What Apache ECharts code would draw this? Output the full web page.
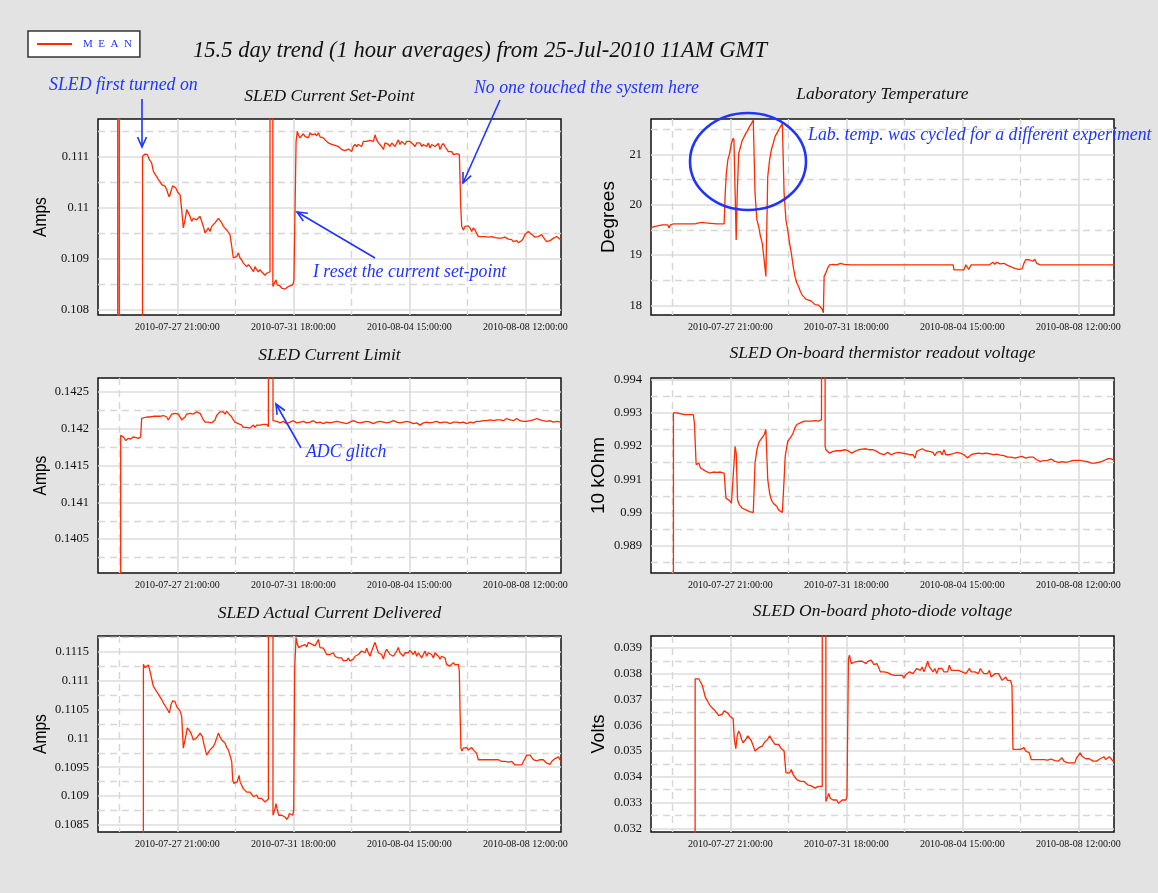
<!DOCTYPE html>
<html><head><meta charset="utf-8">
<script src="https://cdn.jsdelivr.net/npm/echarts@6/dist/echarts.min.js"></script>
<style>html,body{margin:0;padding:0;background:#e3e3e3}#c{width:1158px;height:893px}</style>
</head><body><div id="c"></div>
<script>
// ---- time axis (hours since 2010-07-25 00:00 GMT) ----
const xRange = [5.4, 376.6];
const xTickHours = [69, 162, 255, 348];
const xTickLabels = ['2010-07-27 21:00:00', '2010-07-31 18:00:00', '2010-08-04 15:00:00', '2010-08-08 12:00:00'];
const xMinorHours = [22.5, 115.5, 208.5, 301.5];

// ---- panel titles / units ----
const panelTitles = ['SLED Current Set-Point', 'Laboratory Temperature', 'SLED Current Limit',
  'SLED On-board thermistor readout voltage', 'SLED Actual Current Delivered', 'SLED On-board photo-diode voltage'];
const panelUnits = ['Amps', 'Degrees', 'Amps', '10 kOhm', 'Amps', 'Volts'];

// ---- y ranges and ticks ----
const yRangeSetPoint = [0.10789, 0.11174];
const yTicksSetPoint = [0.108, 0.109, 0.11, 0.111];
const yMinorSetPoint = [0.1085, 0.1095, 0.1105, 0.1115];
const yRangeTemp = [17.815, 21.70];
const yTicksTemp = [18, 19, 20, 21];
const yMinorTemp = [18.5, 19.5, 20.5, 21.5];
const yRangeLimit = [0.14004, 0.14269];
const yTicksLimit = [0.1405, 0.141, 0.1415, 0.142, 0.1425];
const yMinorLimit = [0.14025, 0.14075, 0.14125, 0.14175, 0.14225];
const yRangeTherm = [0.98818, 0.99405];
const yTicksTherm = [0.989, 0.99, 0.991, 0.992, 0.993, 0.994];
const yMinorTherm = [0.9885, 0.9895, 0.9905, 0.9915, 0.9925, 0.9935];
const yRangeActual = [0.10838, 0.11177];
const yTicksActual = [0.1085, 0.109, 0.1095, 0.11, 0.1105, 0.111, 0.1115];
const yMinorActual = [0.10875, 0.10925, 0.10975, 0.11025, 0.11075, 0.11125, 0.11175];
const yRangePhoto = [0.03186, 0.03946];
const yTicksPhoto = [0.032, 0.033, 0.034, 0.035, 0.036, 0.037, 0.038, 0.039];
const yMinorPhoto = [0.0325, 0.0335, 0.0345, 0.0355, 0.0365, 0.0375, 0.0385];

// ---- series data: [hour, value] ----
const setPointData = [[5.4,0],[21.2,0],[21.4,1],[22.4,1],[22.6,0],[40.9,0],[41.1,0.11101],[41.8,0.11101],[43.1,0.11105],[45.0,0.11104],[46.6,0.11094],[48.4,0.11088],[49.8,0.11071],[51.1,0.11068],[52.4,0.11061],[53.8,0.11055],[55.1,0.11051],[56.5,0.11045],[57.8,0.11048],[59.1,0.11042],[60.5,0.11035],[61.8,0.11025],[62.6,0.11021],[63.9,0.11032],[65.3,0.11043],[66.3,0.11045],[67.9,0.11038],[69.3,0.11030],[71.2,0.11025],[72.5,0.10996],[73.8,0.10960],[75.2,0.10976],[76.5,0.10996],[77.8,0.10996],[79.2,0.10983],[80.5,0.10973],[81.8,0.10979],[83.2,0.10976],[84.5,0.10976],[85.9,0.10979],[87.2,0.10983],[88.5,0.10973],[89.9,0.10963],[91.2,0.10950],[92.5,0.10953],[93.9,0.10960],[95.2,0.10953],[96.5,0.10963],[97.9,0.10966],[99.2,0.10970],[100.5,0.10973],[101.9,0.10979],[103.2,0.10976],[104.6,0.10970],[105.9,0.10963],[107.2,0.10960],[108.6,0.10956],[109.9,0.10953],[111.2,0.10947],[112.6,0.10924],[113.9,0.10901],[115.2,0.10904],[116.6,0.10904],[117.9,0.10911],[119.3,0.10901],[120.6,0.10897],[121.9,0.10891],[123.3,0.10888],[124.6,0.10884],[126.0,0.10888],[127.3,0.10884],[128.6,0.10881],[130.0,0.10874],[131.3,0.10884],[132.6,0.10878],[134.0,0.10874],[135.3,0.10878],[136.6,0.10874],[138.0,0.10871],[139.3,0.10867],[140.6,0.10871],[142.0,0.10871],[143.3,0.10874],[143.6,1],[145.1,1],[145.6,0.10845],[147.2,0.10848],[148.0,0.10858],[149.1,0.10848],[150.2,0.10845],[151.3,0.10846],[152.7,0.10842],[154.0,0.10844],[155.3,0.10840],[156.7,0.10838],[158.0,0.10845],[159.3,0.10848],[160.7,0.10847],[162.0,0.10851],[162.5,0.10858],[164.2,0.11130],[165.2,0.11150],[166.3,0.11141],[167.4,0.11137],[168.7,0.11140],[170.0,0.11145],[171.4,0.11140],[172.7,0.11143],[174.0,0.11137],[175.4,0.11147],[176.7,0.11143],[178.0,0.11140],[179.4,0.11145],[180.7,0.11141],[182.1,0.11147],[182.9,0.11150],[183.4,0.11139],[184.7,0.11140],[186.1,0.11137],[187.4,0.11133],[188.7,0.11130],[190.1,0.11127],[191.4,0.11128],[192.7,0.11124],[194.1,0.11127],[195.4,0.11122],[196.8,0.11125],[198.1,0.11120],[199.4,0.11117],[200.8,0.11114],[202.1,0.11115],[203.4,0.11112],[204.8,0.11114],[206.1,0.11115],[207.4,0.11114],[208.8,0.11110],[210.1,0.11120],[211.5,0.11124],[212.8,0.11120],[214.1,0.11124],[215.5,0.11127],[216.8,0.11120],[218.1,0.11130],[219.5,0.11133],[220.8,0.11130],[222.1,0.11127],[223.5,0.11132],[224.8,0.11135],[226.2,0.11130],[227.5,0.11143],[228.8,0.11133],[230.2,0.11127],[231.5,0.11130],[232.8,0.11120],[234.2,0.11114],[235.5,0.11127],[236.8,0.11130],[238.2,0.11124],[239.5,0.11120],[240.9,0.11127],[242.2,0.11130],[243.5,0.11120],[244.9,0.11127],[246.2,0.11133],[247.5,0.11124],[248.9,0.11130],[250.2,0.11127],[251.5,0.11124],[252.9,0.11130],[254.2,0.11127],[255.5,0.11130],[256.9,0.11127],[258.2,0.11124],[259.6,0.11120],[260.9,0.11127],[262.2,0.11124],[263.6,0.11127],[264.9,0.11120],[266.2,0.11124],[267.6,0.11127],[268.9,0.11120],[270.2,0.11127],[271.6,0.11117],[272.9,0.11124],[274.3,0.11127],[275.6,0.11120],[276.9,0.11122],[278.3,0.11126],[279.6,0.11114],[280.9,0.11122],[282.3,0.11126],[283.6,0.11120],[284.9,0.11117],[286.3,0.11110],[287.6,0.11107],[289.0,0.11110],[290.3,0.11104],[291.6,0.11107],[293.0,0.11106],[294.3,0.11109],[295.1,0.11104],[295.6,0.11061],[296.2,0.11002],[297.0,0.10963],[298.3,0.10956],[299.7,0.10963],[301.0,0.10960],[302.3,0.10964],[303.7,0.10960],[305.0,0.10953],[306.3,0.10960],[307.7,0.10956],[309.0,0.10953],[310.3,0.10943],[311.7,0.10945],[313.0,0.10943],[314.4,0.10940],[315.7,0.10943],[317.0,0.10940],[318.4,0.10942],[319.7,0.10940],[321.0,0.10943],[322.4,0.10940],[323.7,0.10941],[325.0,0.10938],[326.4,0.10940],[327.7,0.10937],[329.0,0.10940],[330.4,0.10938],[331.7,0.10942],[333.0,0.10943],[334.4,0.10938],[335.7,0.10940],[337.1,0.10937],[338.4,0.10933],[339.7,0.10931],[341.1,0.10935],[342.4,0.10931],[343.7,0.10930],[345.1,0.10935],[346.4,0.10940],[347.7,0.10947],[349.1,0.10950],[350.4,0.10953],[351.8,0.10956],[353.1,0.10947],[354.4,0.10945],[355.8,0.10942],[357.1,0.10940],[358.4,0.10943],[359.8,0.10945],[361.1,0.10947],[362.4,0.10942],[363.8,0.10937],[365.1,0.10933],[366.4,0.10930],[367.8,0.10935],[369.1,0.10937],[370.5,0.10940],[371.8,0.10940],[373.1,0.10943],[374.5,0.10945],[375.8,0.10938],[376.6,0.10937]];

const tempData = [[4.9,19.54],[8.7,19.57],[14.5,19.60],[18.9,19.60],[19.8,19.54],[21.0,19.60],[23.3,19.62],[32.0,19.62],[40.7,19.62],[43.7,19.64],[46.6,19.65],[48.0,19.68],[48.9,19.64],[49.5,19.62],[58.2,19.62],[64.0,19.62],[64.9,20.23],[65.8,20.62],[67.0,20.89],[68.4,21.02],[69.9,21.22],[70.7,21.28],[71.3,21.32],[71.9,21.28],[73.7,19.30],[74.5,20.20],[75.7,21.02],[77.2,21.15],[78.6,21.28],[80.1,21.35],[81.5,21.42],[83.0,21.48],[84.4,21.55],[85.9,21.61],[87.4,21.68],[88.8,20.23],[90.3,19.70],[91.7,19.57],[93.2,19.37],[94.6,19.24],[96.1,18.91],[97.5,18.58],[98.1,18.55],[99.0,20.56],[100.5,20.89],[101.9,21.09],[103.4,21.22],[104.8,21.35],[107.7,21.48],[109.2,21.55],[110.7,21.61],[112.1,20.23],[113.6,19.70],[115.0,19.50],[116.5,19.24],[117.9,19.04],[119.4,18.78],[120.8,18.58],[122.3,18.45],[123.7,18.38],[125.2,18.28],[126.6,18.21],[128.1,18.18],[129.6,18.13],[131.0,18.12],[134.0,18.09],[136.9,18.02],[139.8,18.01],[141.2,17.99],[142.7,17.93],[143.6,17.86],[144.2,18.58],[145.6,18.65],[147.1,18.75],[148.5,18.81],[151.4,18.82],[154.3,18.81],[157.3,18.84],[160.2,18.82],[166.0,18.81],[189.3,18.81],[220.0,18.81],[247.6,18.81],[248.3,18.71],[256.3,18.71],[257.8,18.81],[259.2,18.81],[260.1,18.72],[261.0,18.72],[262.1,18.81],[276.7,18.81],[279.6,18.86],[281.0,18.82],[282.5,18.86],[285.4,18.83],[288.3,18.84],[291.3,18.80],[294.2,18.77],[297.1,18.74],[300.0,18.72],[302.9,18.73],[304.4,18.84],[305.8,18.91],[308.7,18.91],[311.7,18.88],[313.1,18.92],[314.6,18.84],[317.5,18.81],[376.9,18.81]];

const limitData = [[5.4,0],[23.5,0],[23.6,0.14191],[25.7,0.14189],[27.8,0.14184],[29.7,0.14187],[31.6,0.14186],[33.7,0.14189],[37.7,0.14187],[39.6,0.14189],[40.4,0.14214],[41.8,0.14214],[44.4,0.14216],[47.1,0.14216],[49.8,0.14217],[52.4,0.14217],[55.1,0.14217],[57.8,0.14218],[60.5,0.14216],[61.8,0.14212],[63.1,0.14216],[64.5,0.14220],[65.8,0.14222],[67.1,0.14221],[68.5,0.14223],[69.8,0.14220],[71.2,0.14218],[72.5,0.14212],[73.8,0.14211],[75.2,0.14216],[76.5,0.14220],[79.2,0.14221],[81.8,0.14220],[84.5,0.14223],[87.2,0.14221],[88.5,0.14220],[89.9,0.14212],[91.2,0.14209],[92.5,0.14211],[93.9,0.14209],[95.2,0.14211],[96.5,0.14208],[97.9,0.14207],[99.2,0.14212],[100.5,0.14218],[101.9,0.14220],[103.2,0.14223],[104.6,0.14221],[105.9,0.14223],[107.2,0.14220],[108.6,0.14224],[109.9,0.14221],[111.2,0.14220],[112.6,0.14216],[113.9,0.14212],[115.2,0.14209],[116.6,0.14208],[117.9,0.14207],[119.3,0.14208],[120.6,0.14205],[121.9,0.14202],[123.3,0.14201],[124.6,0.14202],[126.0,0.14203],[127.3,0.14201],[128.6,0.14203],[130.0,0.14205],[131.3,0.14202],[132.6,0.14205],[134.0,0.14203],[135.3,0.14205],[136.6,0.14205],[138.0,0.14206],[139.3,0.14205],[140.6,0.14206],[142.0,0.14203],[142.8,0.14201],[143.6,1],[145.2,1],[145.7,0.14211],[147.2,0.14209],[148.7,0.14210],[151.3,0.14208],[154.0,0.14210],[156.7,0.14207],[159.3,0.14209],[162.0,0.14211],[164.7,0.14208],[167.4,0.14209],[170.0,0.14210],[172.7,0.14208],[175.4,0.14209],[178.0,0.14211],[180.7,0.14208],[183.4,0.14209],[186.1,0.14207],[188.7,0.14209],[191.4,0.14208],[194.1,0.14209],[196.8,0.14210],[199.4,0.14209],[202.1,0.14208],[204.8,0.14207],[207.4,0.14209],[210.1,0.14211],[212.8,0.14209],[215.5,0.14208],[218.1,0.14209],[220.8,0.14210],[223.5,0.14209],[226.2,0.14207],[228.8,0.14209],[231.5,0.14210],[234.2,0.14209],[236.8,0.14208],[239.5,0.14209],[242.2,0.14211],[244.9,0.14209],[247.5,0.14208],[250.2,0.14209],[252.9,0.14210],[255.5,0.14209],[258.2,0.14207],[260.9,0.14208],[263.6,0.14205],[266.2,0.14208],[268.9,0.14209],[271.6,0.14208],[274.3,0.14209],[276.9,0.14210],[279.6,0.14208],[282.3,0.14209],[284.9,0.14209],[287.6,0.14207],[290.3,0.14209],[293.0,0.14209],[295.6,0.14208],[298.3,0.14209],[301.0,0.14207],[303.7,0.14209],[306.3,0.14208],[309.0,0.14210],[311.7,0.14210],[314.3,0.14211],[317.0,0.14211],[319.7,0.14212],[322.4,0.14211],[325.0,0.14212],[327.7,0.14212],[330.4,0.14211],[333.0,0.14214],[335.7,0.14212],[338.4,0.14211],[341.1,0.14214],[343.7,0.14211],[346.4,0.14210],[349.1,0.14210],[351.8,0.14211],[354.4,0.14212],[357.1,0.14214],[359.8,0.14212],[362.4,0.14211],[365.1,0.14210],[367.8,0.14211],[370.5,0.14209],[373.1,0.14210],[376.6,0.14209]];

const thermData = [[5.4,0.95],[23.2,0.95],[23.4,0.99300],[26.2,0.99300],[32.0,0.99295],[39.3,0.99295],[40.2,0.99270],[41.6,0.99144],[43.7,0.99149],[45.1,0.99134],[46.6,0.99139],[49.5,0.99124],[52.4,0.99119],[55.3,0.99122],[58.2,0.99121],[61.1,0.99122],[64.0,0.99119],[65.5,0.99043],[67.0,0.99038],[68.4,0.99036],[69.9,0.99028],[71.3,0.99023],[72.8,0.99199],[73.7,0.99180],[74.8,0.99038],[76.3,0.99023],[78.6,0.99013],[81.5,0.99008],[84.4,0.99003],[87.4,0.99000],[88.8,0.99149],[90.3,0.99189],[91.7,0.99209],[93.2,0.99219],[94.6,0.99224],[96.1,0.99234],[97.5,0.99250],[99.0,0.99099],[100.5,0.99058],[101.9,0.99038],[103.4,0.99028],[104.8,0.99023],[106.3,0.99018],[107.7,0.99008],[109.2,0.99003],[110.7,0.99000],[112.1,0.99099],[113.0,0.99169],[115.0,0.99214],[116.5,0.99219],[117.9,0.99229],[119.4,0.99240],[120.8,0.99255],[122.3,0.99265],[125.2,0.99270],[128.1,0.99275],[131.0,0.99275],[134.0,0.99275],[136.9,0.99277],[139.8,0.99275],[142.1,0.99280],[142.5,1.1],[144.6,1.1],[145.0,0.99199],[145.6,0.99189],[148.5,0.99179],[151.4,0.99184],[154.3,0.99186],[157.3,0.99186],[160.2,0.99189],[163.1,0.99187],[166.0,0.99179],[168.9,0.99184],[171.8,0.99189],[174.7,0.99191],[177.7,0.99192],[180.6,0.99189],[183.5,0.99189],[186.4,0.99184],[189.3,0.99177],[192.2,0.99174],[195.1,0.99181],[196.6,0.99187],[198.0,0.99174],[201.0,0.99179],[203.9,0.99181],[206.8,0.99179],[209.7,0.99177],[212.6,0.99174],[215.5,0.99174],[217.0,0.99164],[218.4,0.99184],[219.9,0.99189],[222.8,0.99192],[225.7,0.99186],[228.6,0.99184],[231.5,0.99181],[233.0,0.99171],[234.4,0.99181],[235.9,0.99177],[237.3,0.99184],[238.8,0.99174],[240.3,0.99189],[241.7,0.99174],[243.2,0.99171],[244.6,0.99174],[247.6,0.99177],[250.5,0.99181],[253.4,0.99179],[256.3,0.99174],[259.2,0.99164],[260.7,0.99167],[262.1,0.99174],[265.0,0.99177],[267.9,0.99179],[270.9,0.99177],[273.8,0.99179],[276.7,0.99177],[279.6,0.99174],[282.5,0.99176],[285.4,0.99173],[288.3,0.99171],[291.3,0.99167],[294.2,0.99167],[297.1,0.99164],[300.0,0.99167],[302.9,0.99169],[305.8,0.99164],[308.7,0.99167],[311.7,0.99167],[314.6,0.99159],[317.5,0.99154],[320.4,0.99156],[323.3,0.99157],[326.2,0.99161],[329.1,0.99154],[332.0,0.99151],[335.0,0.99153],[337.9,0.99151],[340.8,0.99153],[343.7,0.99157],[346.6,0.99157],[349.5,0.99157],[352.4,0.99155],[355.3,0.99153],[358.3,0.99149],[361.2,0.99149],[364.1,0.99151],[367.0,0.99154],[369.9,0.99159],[372.8,0.99163],[375.7,0.99159],[376.9,0.99157]];

const actualData = [[5.4,0],[41.6,0],[41.8,0.11128],[43.1,0.11122],[44.4,0.11125],[45.8,0.11127],[47.1,0.11116],[48.4,0.11113],[49.8,0.11090],[51.1,0.11090],[52.4,0.11081],[53.8,0.11076],[55.1,0.11073],[56.5,0.11067],[57.8,0.11061],[59.1,0.11061],[60.5,0.11052],[61.8,0.11050],[62.6,0.11044],[63.9,0.11058],[65.3,0.11065],[67.1,0.11064],[68.5,0.11055],[69.8,0.11052],[71.2,0.11047],[72.5,0.11038],[73.8,0.10983],[75.2,0.10980],[76.0,0.11006],[77.0,0.11018],[78.1,0.11021],[79.2,0.11012],[80.5,0.11006],[81.8,0.10997],[83.2,0.11000],[84.5,0.11001],[85.9,0.11003],[87.2,0.11009],[88.0,0.11012],[89.1,0.11003],[90.4,0.10989],[91.2,0.10983],[92.5,0.10971],[93.9,0.10974],[95.2,0.10980],[96.5,0.10983],[97.9,0.10986],[99.2,0.10992],[100.5,0.11000],[101.9,0.11009],[103.2,0.11003],[104.6,0.10997],[105.9,0.10994],[107.2,0.10992],[108.6,0.10984],[109.9,0.10980],[111.2,0.10978],[112.6,0.10960],[113.4,0.10928],[114.4,0.10922],[115.8,0.10925],[117.1,0.10925],[118.5,0.10936],[119.3,0.10925],[120.6,0.10919],[121.9,0.10913],[123.3,0.10910],[124.6,0.10907],[126.0,0.10909],[127.3,0.10907],[128.6,0.10905],[130.0,0.10899],[131.3,0.10899],[132.6,0.10902],[134.0,0.10896],[135.3,0.10899],[136.6,0.10896],[138.0,0.10893],[139.3,0.10890],[140.6,0.10893],[142.0,0.10895],[143.3,0.10897],[143.6,1],[145.1,1],[145.7,0.10867],[146.5,0.10864],[147.3,0.10878],[148.1,0.10887],[149.2,0.10876],[150.3,0.10867],[151.3,0.10867],[152.7,0.10867],[154.0,0.10867],[155.3,0.10864],[156.7,0.10860],[158.0,0.10864],[158.8,0.10870],[159.9,0.10867],[161.5,0.10867],[162.3,0.10876],[163.1,0.11122],[164.2,0.11174],[165.2,0.11163],[166.3,0.11157],[167.4,0.11154],[168.7,0.11160],[170.0,0.11157],[171.4,0.11162],[172.7,0.11158],[174.0,0.11166],[175.4,0.11163],[176.7,0.11163],[178.0,0.11162],[179.4,0.11160],[180.7,0.11163],[182.1,0.11171],[182.9,0.11173],[183.4,0.11157],[184.7,0.11154],[186.1,0.11156],[187.4,0.11154],[188.7,0.11145],[190.1,0.11142],[191.4,0.11145],[192.7,0.11142],[194.1,0.11148],[195.4,0.11142],[196.8,0.11145],[198.1,0.11139],[199.4,0.11142],[200.8,0.11139],[202.1,0.11134],[203.4,0.11137],[204.8,0.11135],[206.1,0.11139],[207.4,0.11134],[208.8,0.11131],[210.1,0.11137],[211.5,0.11142],[212.8,0.11139],[214.1,0.11145],[215.5,0.11142],[216.8,0.11151],[218.1,0.11154],[219.5,0.11148],[220.8,0.11156],[222.1,0.11148],[223.5,0.11142],[224.8,0.11151],[226.2,0.11154],[227.5,0.11166],[228.8,0.11157],[230.2,0.11148],[231.5,0.11151],[232.8,0.11145],[234.2,0.11137],[235.5,0.11148],[236.8,0.11154],[238.2,0.11151],[239.5,0.11145],[240.9,0.11148],[242.2,0.11142],[243.5,0.11139],[244.9,0.11151],[246.2,0.11157],[247.5,0.11148],[248.9,0.11145],[250.2,0.11142],[251.5,0.11148],[252.9,0.11151],[254.2,0.11148],[255.5,0.11152],[256.9,0.11154],[258.2,0.11145],[259.6,0.11151],[260.9,0.11142],[262.2,0.11148],[263.6,0.11148],[264.9,0.11139],[266.2,0.11145],[267.6,0.11151],[268.9,0.11142],[270.2,0.11148],[271.6,0.11151],[272.9,0.11145],[274.3,0.11139],[275.6,0.11148],[276.9,0.11151],[278.3,0.11142],[279.6,0.11137],[280.9,0.11142],[282.3,0.11145],[283.6,0.11139],[284.9,0.11128],[286.3,0.11131],[287.6,0.11125],[289.0,0.11128],[290.3,0.11131],[291.6,0.11127],[293.0,0.11125],[294.3,0.11128],[295.1,0.11116],[295.6,0.11052],[296.4,0.10983],[297.2,0.10978],[298.3,0.10983],[299.7,0.10982],[301.0,0.10984],[302.3,0.10980],[303.7,0.10983],[305.0,0.10984],[306.3,0.10980],[307.7,0.10982],[309.0,0.10974],[310.3,0.10963],[311.7,0.10965],[313.0,0.10963],[314.4,0.10964],[315.7,0.10963],[317.0,0.10961],[318.4,0.10963],[319.7,0.10960],[321.0,0.10963],[322.4,0.10961],[323.7,0.10963],[325.0,0.10960],[326.4,0.10963],[327.7,0.10961],[329.0,0.10960],[330.4,0.10963],[331.7,0.10960],[333.0,0.10963],[334.4,0.10959],[335.7,0.10957],[337.1,0.10960],[338.4,0.10959],[339.7,0.10954],[341.1,0.10951],[342.4,0.10954],[343.7,0.10953],[345.1,0.10954],[346.4,0.10960],[347.7,0.10965],[349.1,0.10971],[350.4,0.10974],[351.8,0.10971],[353.1,0.10968],[354.4,0.10963],[355.8,0.10963],[357.1,0.10961],[358.4,0.10963],[359.8,0.10963],[361.1,0.10965],[362.4,0.10963],[363.8,0.10960],[365.1,0.10957],[366.4,0.10954],[367.8,0.10955],[369.1,0.10960],[370.5,0.10963],[371.8,0.10965],[373.1,0.10965],[374.5,0.10968],[375.8,0.10963],[376.6,0.10960]];

const photoData = [[5.4,0],[40.6,0],[40.8,0.03780],[41.3,0.03780],[42.2,0.03774],[43.7,0.03780],[45.1,0.03774],[46.6,0.03754],[48.0,0.03752],[48.9,0.03709],[50.1,0.03709],[51.2,0.03689],[52.4,0.03679],[53.9,0.03670],[55.3,0.03676],[56.8,0.03656],[58.2,0.03650],[59.7,0.03637],[61.1,0.03634],[62.6,0.03643],[64.0,0.03656],[65.5,0.03663],[67.0,0.03647],[68.4,0.03637],[69.9,0.03630],[71.3,0.03624],[72.2,0.03546],[73.4,0.03509],[74.5,0.03559],[75.7,0.03578],[76.9,0.03565],[78.0,0.03546],[79.2,0.03532],[80.4,0.03539],[81.5,0.03546],[83.0,0.03559],[84.4,0.03559],[85.9,0.03539],[87.4,0.03519],[88.8,0.03500],[90.3,0.03496],[91.7,0.03513],[93.2,0.03506],[94.6,0.03519],[96.1,0.03532],[97.5,0.03539],[99.0,0.03546],[100.5,0.03559],[101.9,0.03546],[103.4,0.03539],[104.8,0.03526],[106.3,0.03532],[107.7,0.03526],[109.2,0.03513],[110.7,0.03506],[112.1,0.03500],[113.6,0.03415],[115.0,0.03408],[116.5,0.03415],[117.9,0.03428],[119.4,0.03408],[120.8,0.03402],[122.3,0.03389],[123.8,0.03382],[125.2,0.03382],[126.7,0.03376],[128.1,0.03382],[129.6,0.03376],[131.0,0.03369],[132.5,0.03363],[134.0,0.03365],[135.4,0.03369],[136.9,0.03356],[138.3,0.03350],[139.8,0.03363],[141.2,0.03365],[142.7,0.03363],[142.9,1],[144.9,1],[145.6,0.03304],[147.1,0.03323],[147.9,0.03336],[149.1,0.03317],[150.3,0.03310],[151.4,0.03310],[152.9,0.03308],[154.3,0.03310],[155.8,0.03297],[157.3,0.03304],[158.7,0.03310],[160.2,0.03308],[161.6,0.03310],[162.5,0.03323],[163.7,0.03858],[164.5,0.03872],[166.0,0.03839],[167.5,0.03833],[168.9,0.03846],[170.4,0.03839],[171.8,0.03848],[173.3,0.03852],[174.7,0.03848],[176.2,0.03846],[177.7,0.03839],[179.1,0.03848],[180.6,0.03846],[182.0,0.03852],[182.9,0.03859],[184.1,0.03835],[185.2,0.03833],[186.4,0.03839],[187.8,0.03826],[189.3,0.03807],[190.8,0.03813],[192.2,0.03807],[193.7,0.03813],[195.1,0.03804],[196.6,0.03807],[198.0,0.03796],[199.5,0.03793],[201.0,0.03793],[202.4,0.03791],[203.9,0.03793],[205.3,0.03791],[206.8,0.03793],[208.2,0.03783],[209.7,0.03796],[211.2,0.03800],[212.6,0.03807],[214.1,0.03809],[215.5,0.03800],[217.0,0.03800],[218.4,0.03820],[219.9,0.03826],[221.3,0.03813],[222.8,0.03826],[224.3,0.03807],[225.7,0.03826],[227.2,0.03848],[228.6,0.03826],[230.1,0.03820],[231.5,0.03807],[233.0,0.03820],[234.5,0.03800],[235.9,0.03820],[237.4,0.03813],[238.8,0.03820],[240.3,0.03807],[241.7,0.03800],[243.2,0.03807],[244.6,0.03833],[246.1,0.03813],[247.6,0.03807],[249.0,0.03813],[250.5,0.03807],[251.9,0.03813],[253.4,0.03820],[254.8,0.03807],[256.3,0.03809],[257.8,0.03800],[259.2,0.03807],[260.7,0.03820],[262.1,0.03807],[263.6,0.03813],[265.0,0.03807],[266.5,0.03813],[267.9,0.03800],[269.4,0.03820],[270.9,0.03809],[272.3,0.03800],[273.8,0.03807],[275.2,0.03800],[276.7,0.03813],[278.1,0.03787],[279.6,0.03793],[281.1,0.03800],[282.5,0.03807],[284.0,0.03800],[285.4,0.03793],[286.9,0.03774],[288.3,0.03780],[289.8,0.03787],[291.3,0.03774],[292.7,0.03780],[293.6,0.03774],[294.8,0.03754],[295.6,0.03506],[297.1,0.03500],[298.6,0.03506],[300.0,0.03500],[301.5,0.03506],[302.9,0.03509],[304.4,0.03513],[305.8,0.03500],[307.3,0.03504],[308.7,0.03493],[310.2,0.03467],[311.7,0.03474],[313.1,0.03467],[314.6,0.03469],[317.5,0.03467],[320.4,0.03467],[323.3,0.03465],[326.2,0.03469],[329.1,0.03463],[332.0,0.03461],[333.5,0.03467],[335.0,0.03474],[336.4,0.03461],[337.9,0.03457],[339.3,0.03454],[340.8,0.03461],[342.2,0.03454],[343.7,0.03451],[345.2,0.03454],[346.6,0.03474],[348.1,0.03483],[349.5,0.03493],[351.0,0.03480],[352.4,0.03474],[353.9,0.03470],[355.3,0.03467],[356.8,0.03470],[358.3,0.03467],[359.7,0.03461],[361.2,0.03454],[362.6,0.03461],[364.1,0.03467],[365.5,0.03470],[367.0,0.03474],[368.5,0.03478],[369.9,0.03467],[371.4,0.03474],[372.8,0.03478],[374.3,0.03470],[375.7,0.03461],[376.9,0.03461]];

// ---- layout (panel order: TL, TR, ML, MR, BL, BR) ----
const RED = '#ff2a00', BLUE = '#1f35ff';
const serif = '"Liberation Serif", "Times New Roman", serif';
const sans = '"Liberation Sans", Arial, sans-serif';
const gridLeft = [98, 651, 98, 651, 98, 651];
const gridTop = [119, 119, 378, 378, 636, 636];
const gridH = [196, 196, 195, 195, 196, 196];
const GW = 463;
const datas = [setPointData, tempData, limitData, thermData, actualData, photoData];
const yRanges = [yRangeSetPoint, yRangeTemp, yRangeLimit, yRangeTherm, yRangeActual, yRangePhoto];
const yTicks = [yTicksSetPoint, yTicksTemp, yTicksLimit, yTicksTherm, yTicksActual, yTicksPhoto];
const yMinors = [yMinorSetPoint, yMinorTemp, yMinorLimit, yMinorTherm, yMinorActual, yMinorPhoto];
const unitX = [41, 609, 41, 599, 41, 599];
const unitScale = [0.82, 1, 0.82, 1, 0.82, 0.95];

const fmtY = v => String(parseFloat(v.toFixed(6)));
const fmtX = v => {
  let best = 0, d = 1e9;
  xTickHours.forEach((h, i) => { if (Math.abs(h - v) < d) { d = Math.abs(h - v); best = i; } });
  return d < 0.5 ? xTickLabels[best] : '';
};

const grid = [], xAxis = [], yAxis = [], series = [], graphic = [];
const solidLine = { color: '#dcdcdc', width: 1.6, type: 'solid' };
const dashLine = { color: '#d6d6d6', width: 1.4, type: [7, 5] };

for (let i = 0; i < 6; i++) {
  grid.push({ left: gridLeft[i], top: gridTop[i], width: GW, height: gridH[i], show: true,
    backgroundColor: '#ffffff', borderColor: '#111', borderWidth: 1.5, containLabel: false, outerBoundsMode: 'none' });
  xAxis.push({ type: 'value', gridIndex: i, min: xRange[0], max: xRange[1], position: 'bottom',
    axisLine: { show: false }, axisTick: { show: false, customValues: xTickHours },
    axisLabel: { customValues: xTickHours, formatter: fmtX, fontFamily: serif, fontSize: 10, color: '#111', margin: 7 },
    splitLine: { show: true, lineStyle: solidLine } });
  xAxis.push({ type: 'value', gridIndex: i, min: xRange[0], max: xRange[1], position: 'top',
    axisLine: { show: false }, axisTick: { show: false, customValues: xMinorHours },
    axisLabel: { show: false, customValues: xMinorHours },
    splitLine: { show: true, lineStyle: dashLine } });
  yAxis.push({ type: 'value', gridIndex: i, min: yRanges[i][0], max: yRanges[i][1], position: 'left',
    axisLine: { show: false }, axisTick: { show: false, customValues: yTicks[i] },
    axisLabel: { customValues: yTicks[i], formatter: fmtY, fontFamily: serif, fontSize: 12.5, color: '#111', margin: 9 },
    splitLine: { show: true, lineStyle: solidLine } });
  yAxis.push({ type: 'value', gridIndex: i, min: yRanges[i][0], max: yRanges[i][1], position: 'right',
    axisLine: { show: false }, axisTick: { show: false, customValues: yMinors[i] },
    axisLabel: { show: false, customValues: yMinors[i] },
    splitLine: { show: true, lineStyle: dashLine } });
  series.push({ type: 'line', name: 'MEAN', xAxisIndex: 2 * i, yAxisIndex: 2 * i, data: datas[i],
    symbol: 'none', showSymbol: false, clip: true, color: RED, lineStyle: { color: RED, width: 1.3 },
    animation: false, z: 5 });
  // panel title
  graphic.push({ type: 'text', x: gridLeft[i] + GW / 2, y: gridTop[i] - (i % 2 ? 25 : 23),
    style: { text: panelTitles[i], fontFamily: serif, fontStyle: 'italic', fontSize: 17.5, fill: '#111',
      align: 'center', verticalAlign: 'middle' } });
  // unit label
  graphic.push({ type: 'text', x: unitX[i], y: gridTop[i] + gridH[i] / 2, rotation: Math.PI / 2,
    scaleX: unitScale[i],
    style: { text: panelUnits[i], fontFamily: sans, fontSize: 19, fill: '#000', align: 'center', verticalAlign: 'middle' } });
}

// main title
graphic.push({ type: 'text', x: 193, y: 51, style: { text: '15.5 day trend (1 hour averages) from 25-Jul-2010 11AM GMT',
  fontFamily: serif, fontStyle: 'italic', fontSize: 22.6, fill: '#111', align: 'left', verticalAlign: 'middle' } });

// annotations
function note(text, x, y) {
  return { type: 'text', x, y, z: 100, style: { text, fontFamily: serif, fontStyle: 'italic', fontSize: 17.8, fill: BLUE,
    align: 'left', verticalAlign: 'middle' } };
}
function arrow(x1, y1, x2, y2) {
  const a = Math.atan2(y2 - y1, x2 - x1), L = 11, w = 0.42;
  return [
    { type: 'line', z: 100, shape: { x1, y1, x2, y2 }, style: { stroke: BLUE, lineWidth: 1.6 } },
    { type: 'polyline', z: 100, shape: { points: [[x2 - L * Math.cos(a - w), y2 - L * Math.sin(a - w)], [x2, y2],
      [x2 - L * Math.cos(a + w), y2 - L * Math.sin(a + w)]] }, style: { stroke: BLUE, lineWidth: 1.6, fill: null } }
  ];
}
graphic.push(note('SLED first turned on', 49, 85));
graphic.push(...arrow(142, 99, 142, 147));
graphic.push(note('No one touched the system here', 474, 88));
graphic.push(...arrow(500, 100, 463, 183));
graphic.push(note('I reset the current set-point', 313, 272));
graphic.push(...arrow(375, 258, 297, 212));
graphic.push(note('ADC glitch', 306, 452));
graphic.push(...arrow(301, 448, 276, 404));
graphic.push(note('Lab. temp. was cycled for a different experiment', 808, 135));
graphic.push({ type: 'ellipse', z: 100, shape: { cx: 748, cy: 161.5, rx: 58, ry: 48.5 },
  style: { stroke: BLUE, lineWidth: 2.6, fill: null } });

const chart = echarts.init(document.getElementById('c'), null, { renderer: 'canvas' });
chart.setOption({
  backgroundColor: '#e3e3e3',
  animation: false,
  legend: { data: ['MEAN'], left: 28, top: 31, orient: 'horizontal', icon: 'rect', itemWidth: 35, itemHeight: 2,
    padding: [6, 8, 6, 9], backgroundColor: '#fff', borderColor: '#333', borderWidth: 1.5, borderRadius: 0,
    formatter: () => 'M  E  A  N', selectedMode: false, itemStyle: { color: RED },
    textStyle: { fontFamily: serif, fontSize: 11, lineHeight: 14, color: BLUE, padding: [0, 0, 0, 6] } },
  grid, xAxis, yAxis, series, graphic
});
</script></body></html>
